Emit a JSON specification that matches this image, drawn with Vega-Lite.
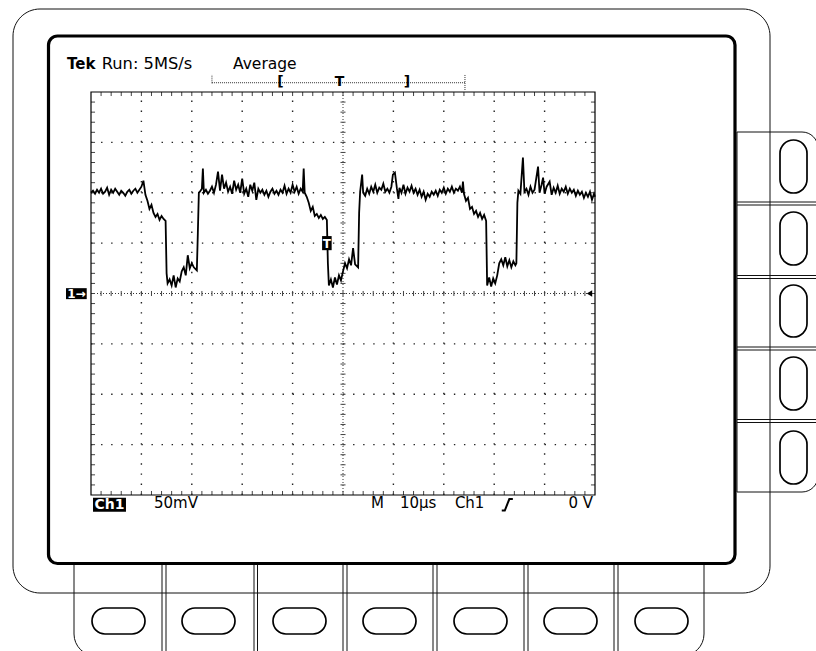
{
"$schema": "https://vega.github.io/schema/vega-lite/v6.json",
"width": 504, "height": 403,
"autosize": {"type": "none"},
"padding": {"left": 91, "top": 92, "right": 221, "bottom": 156},
"background": "white",
"config": {"view": {"stroke": null}, "text": {"font": "DejaVu Sans"}},
"datasets": {
"tt": [{"t":2},{"t":4},{"t":6},{"t":8},{"t":10},{"t":12},{"t":14},{"t":16},{"t":18},{"t":20},{"t":22},{"t":24},{"t":26},{"t":28},{"t":30},{"t":32},{"t":34},{"t":36},{"t":38},{"t":40},{"t":42},{"t":44},{"t":46},{"t":48},{"t":50},{"t":52},{"t":54},{"t":56},{"t":58},{"t":60},{"t":62},{"t":64},{"t":66},{"t":68},{"t":70},{"t":72},{"t":74},{"t":76},{"t":78},{"t":80},{"t":82},{"t":84},{"t":86},{"t":88},{"t":90},{"t":92},{"t":94},{"t":96},{"t":98}],
"mm": [{"mv":-190},{"mv":-180},{"mv":-170},{"mv":-160},{"mv":-150},{"mv":-140},{"mv":-130},{"mv":-120},{"mv":-110},{"mv":-100},{"mv":-90},{"mv":-80},{"mv":-70},{"mv":-60},{"mv":-50},{"mv":-40},{"mv":-30},{"mv":-20},{"mv":-10},{"mv":0},{"mv":10},{"mv":20},{"mv":30},{"mv":40},{"mv":50},{"mv":60},{"mv":70},{"mv":80},{"mv":90},{"mv":100},{"mv":110},{"mv":120},{"mv":130},{"mv":140},{"mv":150},{"mv":160},{"mv":170},{"mv":180},{"mv":190}],
"trace": [{"t":0,"mv":100},{"t":0.4,"mv":102},{"t":0.8,"mv":99},{"t":1.2,"mv":103},{"t":1.6,"mv":100},{"t":2,"mv":104},{"t":2.4,"mv":99},{"t":2.8,"mv":101},{"t":3.2,"mv":105},{"t":3.6,"mv":98},{"t":4,"mv":103},{"t":4.4,"mv":100},{"t":4.8,"mv":104},{"t":5.2,"mv":101},{"t":5.6,"mv":98},{"t":6,"mv":102},{"t":6.4,"mv":100},{"t":6.8,"mv":97},{"t":7.2,"mv":101},{"t":7.6,"mv":103},{"t":8,"mv":99},{"t":8.4,"mv":102},{"t":8.8,"mv":104},{"t":9.2,"mv":100},{"t":9.6,"mv":103},{"t":10,"mv":106},{"t":10.4,"mv":112},{"t":10.8,"mv":98},{"t":11.2,"mv":92},{"t":11.6,"mv":84},{"t":12,"mv":88},{"t":12.4,"mv":80},{"t":12.8,"mv":76},{"t":13.2,"mv":79},{"t":13.6,"mv":73},{"t":14,"mv":77},{"t":14.4,"mv":74},{"t":14.8,"mv":72},{"t":15,"mv":20},{"t":15.2,"mv":10},{"t":15.6,"mv":14},{"t":16,"mv":8},{"t":16.4,"mv":18},{"t":16.8,"mv":6},{"t":17.2,"mv":15},{"t":17.6,"mv":12},{"t":18,"mv":22},{"t":18.4,"mv":26},{"t":18.8,"mv":18},{"t":19.2,"mv":38},{"t":19.6,"mv":25},{"t":20,"mv":30},{"t":20.4,"mv":26},{"t":20.8,"mv":24},{"t":21,"mv":23},{"t":21.2,"mv":60},{"t":21.4,"mv":100},{"t":21.6,"mv":101},{"t":22,"mv":104},{"t":22.2,"mv":124},{"t":22.4,"mv":100},{"t":22.8,"mv":103},{"t":23.2,"mv":99},{"t":23.6,"mv":102},{"t":24,"mv":106},{"t":24.4,"mv":100},{"t":24.8,"mv":108},{"t":25.2,"mv":121},{"t":25.6,"mv":102},{"t":26,"mv":118},{"t":26.4,"mv":104},{"t":26.8,"mv":110},{"t":27.2,"mv":101},{"t":27.6,"mv":106},{"t":28,"mv":99},{"t":28.4,"mv":112},{"t":28.8,"mv":103},{"t":29.2,"mv":108},{"t":29.6,"mv":100},{"t":30,"mv":114},{"t":30.4,"mv":99},{"t":30.8,"mv":104},{"t":31.2,"mv":96},{"t":31.6,"mv":108},{"t":32,"mv":102},{"t":32.4,"mv":110},{"t":32.8,"mv":93},{"t":33.2,"mv":104},{"t":33.6,"mv":100},{"t":34,"mv":103},{"t":34.4,"mv":98},{"t":34.8,"mv":102},{"t":35.2,"mv":96},{"t":35.6,"mv":101},{"t":36,"mv":104},{"t":36.4,"mv":99},{"t":36.8,"mv":102},{"t":37.2,"mv":98},{"t":37.6,"mv":103},{"t":38,"mv":100},{"t":38.4,"mv":107},{"t":38.8,"mv":99},{"t":39.2,"mv":104},{"t":39.6,"mv":100},{"t":40,"mv":108},{"t":40.4,"mv":101},{"t":40.8,"mv":106},{"t":41.2,"mv":99},{"t":41.6,"mv":104},{"t":42,"mv":101},{"t":42.2,"mv":124},{"t":42.4,"mv":100},{"t":42.8,"mv":96},{"t":43.2,"mv":90},{"t":43.6,"mv":82},{"t":44,"mv":86},{"t":44.4,"mv":77},{"t":44.8,"mv":79},{"t":45.2,"mv":75},{"t":45.6,"mv":78},{"t":46,"mv":74},{"t":46.4,"mv":76},{"t":46.8,"mv":73},{"t":47,"mv":30},{"t":47.2,"mv":8},{"t":47.6,"mv":14},{"t":48,"mv":6},{"t":48.4,"mv":16},{"t":48.8,"mv":9},{"t":49.2,"mv":18},{"t":49.6,"mv":13},{"t":50,"mv":22},{"t":50.4,"mv":30},{"t":50.8,"mv":25},{"t":51.2,"mv":34},{"t":51.6,"mv":28},{"t":52,"mv":45},{"t":52.4,"mv":29},{"t":52.8,"mv":27},{"t":53,"mv":26},{"t":53.2,"mv":80},{"t":53.4,"mv":101},{"t":53.8,"mv":118},{"t":54,"mv":100},{"t":54.4,"mv":97},{"t":54.8,"mv":104},{"t":55.2,"mv":99},{"t":55.6,"mv":106},{"t":56,"mv":101},{"t":56.4,"mv":108},{"t":56.8,"mv":100},{"t":57.2,"mv":105},{"t":57.6,"mv":103},{"t":58,"mv":109},{"t":58.4,"mv":101},{"t":58.8,"mv":104},{"t":59.2,"mv":100},{"t":59.6,"mv":106},{"t":59.9,"mv":118},{"t":60.3,"mv":120},{"t":60.7,"mv":104},{"t":61,"mv":94},{"t":61.2,"mv":105},{"t":61.6,"mv":100},{"t":62,"mv":108},{"t":62.4,"mv":99},{"t":62.8,"mv":105},{"t":63.2,"mv":101},{"t":63.6,"mv":107},{"t":64,"mv":100},{"t":64.4,"mv":104},{"t":64.8,"mv":98},{"t":65.2,"mv":103},{"t":65.6,"mv":96},{"t":66,"mv":101},{"t":66.4,"mv":93},{"t":66.8,"mv":99},{"t":67.2,"mv":96},{"t":67.6,"mv":101},{"t":68,"mv":98},{"t":68.4,"mv":102},{"t":68.8,"mv":97},{"t":69.2,"mv":103},{"t":69.6,"mv":100},{"t":70,"mv":105},{"t":70.4,"mv":99},{"t":70.8,"mv":104},{"t":71.2,"mv":101},{"t":71.6,"mv":106},{"t":72,"mv":100},{"t":72.4,"mv":104},{"t":72.8,"mv":102},{"t":73.2,"mv":106},{"t":73.6,"mv":100},{"t":73.8,"mv":111},{"t":74,"mv":99},{"t":74.4,"mv":92},{"t":74.8,"mv":95},{"t":75.2,"mv":84},{"t":75.6,"mv":86},{"t":76,"mv":79},{"t":76.4,"mv":82},{"t":76.8,"mv":76},{"t":77.2,"mv":80},{"t":77.6,"mv":74},{"t":78,"mv":78},{"t":78.4,"mv":72},{"t":78.6,"mv":8},{"t":79,"mv":16},{"t":79.4,"mv":7},{"t":79.8,"mv":15},{"t":80.2,"mv":10},{"t":80.6,"mv":18},{"t":81,"mv":30},{"t":81.4,"mv":34},{"t":81.8,"mv":28},{"t":82.2,"mv":36},{"t":82.6,"mv":27},{"t":83,"mv":33},{"t":83.4,"mv":26},{"t":83.8,"mv":32},{"t":84.2,"mv":28},{"t":84.4,"mv":30},{"t":84.6,"mv":90},{"t":84.8,"mv":102},{"t":85.2,"mv":99},{"t":85.7,"mv":135},{"t":86,"mv":101},{"t":86.4,"mv":104},{"t":86.8,"mv":98},{"t":87.2,"mv":106},{"t":87.6,"mv":100},{"t":88,"mv":103},{"t":88.7,"mv":126},{"t":89,"mv":100},{"t":89.4,"mv":108},{"t":89.7,"mv":115},{"t":90,"mv":99},{"t":90.4,"mv":106},{"t":91,"mv":111},{"t":91.4,"mv":98},{"t":91.8,"mv":105},{"t":92.2,"mv":100},{"t":92.6,"mv":107},{"t":93,"mv":99},{"t":93.4,"mv":104},{"t":93.8,"mv":101},{"t":94.2,"mv":106},{"t":94.6,"mv":99},{"t":95,"mv":104},{"t":95.4,"mv":100},{"t":95.8,"mv":103},{"t":96.2,"mv":97},{"t":96.6,"mv":102},{"t":97,"mv":98},{"t":97.4,"mv":101},{"t":97.8,"mv":95},{"t":98.2,"mv":100},{"t":98.6,"mv":96},{"t":99,"mv":101},{"t":99.4,"mv":93},{"t":99.8,"mv":99},{"t":100,"mv":96}]
},
"resolve": {"scale": {"x": "independent", "y": "independent"}},
"layer": [
{
"encoding": {
"x": {"field": "x", "type": "quantitative", "scale": {"domain": [91, 595], "nice": false, "zero": false}, "axis": null},
"y": {"field": "y", "type": "quantitative", "scale": {"domain": [92, 495], "nice": false, "zero": false, "reverse": true}, "axis": null},
"x2": {"field": "x2"}, "y2": {"field": "y2"}
},
"layer": [
{"data": {"values": [{"x": 13, "y": 9, "x2": 770, "y2": 593}]},
 "mark": {"type": "rect", "filled": false, "color": "#111", "strokeWidth": 1, "cornerRadius": 27}},
{"data": {"values": [{"x": 737, "y": 132, "x2": 818, "y2": 492}]},
 "mark": {"type": "rect", "filled": false, "color": "#111", "strokeWidth": 1, "cornerRadiusTopRight": 16, "cornerRadiusBottomRight": 16}},
{"data": {"values": [{"x": 74, "y": 563, "x2": 704, "y2": 656}]},
 "mark": {"type": "rect", "filled": false, "color": "#111", "strokeWidth": 1, "cornerRadiusBottomLeft": 22, "cornerRadiusBottomRight": 22}},
{"data": {"values": [{"x": 737, "y": 202, "x2": 816, "y2": 202}, {"x": 737, "y": 205, "x2": 816, "y2": 205}, {"x": 737, "y": 275.5, "x2": 816, "y2": 275.5}, {"x": 737, "y": 278.5, "x2": 816, "y2": 278.5}, {"x": 737, "y": 347, "x2": 816, "y2": 347}, {"x": 737, "y": 350, "x2": 816, "y2": 350}, {"x": 737, "y": 419.5, "x2": 816, "y2": 419.5}, {"x": 737, "y": 422.5, "x2": 816, "y2": 422.5},
 {"x": 162, "y": 563, "x2": 162, "y2": 651}, {"x": 166, "y": 563, "x2": 166, "y2": 651}, {"x": 254, "y": 563, "x2": 254, "y2": 651}, {"x": 257.5, "y": 563, "x2": 257.5, "y2": 651}, {"x": 343, "y": 563, "x2": 343, "y2": 651}, {"x": 347, "y": 563, "x2": 347, "y2": 651}, {"x": 433, "y": 563, "x2": 433, "y2": 651}, {"x": 437, "y": 563, "x2": 437, "y2": 651}, {"x": 524, "y": 563, "x2": 524, "y2": 651}, {"x": 528, "y": 563, "x2": 528, "y2": 651}, {"x": 614, "y": 563, "x2": 614, "y2": 651}, {"x": 618, "y": 563, "x2": 618, "y2": 651}]},
 "mark": {"type": "rule", "color": "#111", "strokeWidth": 1}},
{"data": {"values": [{"x": 48.5, "y": 36, "x2": 735, "y2": 563.5}]},
 "mark": {"type": "rect", "filled": false, "color": "#000", "strokeWidth": 3.2, "cornerRadius": 9}},
{"data": {"values": [{"x": 780, "y": 140, "x2": 807, "y2": 193}, {"x": 780, "y": 212, "x2": 807, "y2": 265}, {"x": 780, "y": 285, "x2": 807, "y2": 337}, {"x": 780, "y": 357, "x2": 807, "y2": 410}, {"x": 780, "y": 431, "x2": 807, "y2": 484}]},
 "mark": {"type": "rect", "filled": false, "color": "#000", "strokeWidth": 1.7, "cornerRadius": 13.5}},
{"data": {"values": [{"x": 92, "y": 608, "x2": 145, "y2": 634}, {"x": 182, "y": 608, "x2": 235, "y2": 634}, {"x": 273, "y": 608, "x2": 326, "y2": 634}, {"x": 363, "y": 608, "x2": 416, "y2": 634}, {"x": 454, "y": 608, "x2": 507, "y2": 634}, {"x": 544, "y": 608, "x2": 597, "y2": 634}, {"x": 635, "y": 608, "x2": 688, "y2": 634}]},
 "mark": {"type": "rect", "filled": false, "color": "#000", "strokeWidth": 1.7, "cornerRadius": 13}}
]
},
{
"layer": [
{"data": {"values": [{"t": 10}, {"t": 20}, {"t": 30}, {"t": 40}, {"t": 60}, {"t": 70}, {"t": 80}, {"t": 90}]},
 "mark": {"type": "rule", "color": "#222", "strokeWidth": 1.4, "strokeDash": [1.4, 8.68]},
 "encoding": {
  "x": {"field": "t", "type": "quantitative", "scale": {"domain": [0, 100], "nice": false, "zero": false}, "axis": null},
  "y": {"datum": -200, "type": "quantitative", "scale": {"domain": [-200, 200], "nice": false, "zero": false}, "axis": null},
  "y2": {"datum": 200}}},
{"data": {"values": [{"mv": -150}, {"mv": -100}, {"mv": -50}, {"mv": 50}, {"mv": 100}, {"mv": 150}]},
 "mark": {"type": "rule", "color": "#222", "strokeWidth": 1.4, "strokeDash": [1.4, 8.68]},
 "encoding": {
  "x": {"datum": 0, "type": "quantitative", "scale": {"domain": [0, 100], "nice": false, "zero": false}, "axis": null},
  "x2": {"datum": 100},
  "y": {"field": "mv", "type": "quantitative", "scale": {"domain": [-200, 200], "nice": false, "zero": false}, "axis": null}}},
{"data": {"values": [{}]},
 "mark": {"type": "rule", "color": "#333", "strokeWidth": 1, "strokeDash": [1, 2]},
 "encoding": {
  "x": {"datum": 50, "type": "quantitative", "scale": {"domain": [0, 100], "nice": false, "zero": false}, "axis": null},
  "y": {"datum": -200, "type": "quantitative", "scale": {"domain": [-200, 200], "nice": false, "zero": false}, "axis": null},
  "y2": {"datum": 200}}},
{"data": {"values": [{}]},
 "mark": {"type": "rule", "color": "#333", "strokeWidth": 1, "strokeDash": [1, 2]},
 "encoding": {
  "x": {"datum": 0, "type": "quantitative", "scale": {"domain": [0, 100], "nice": false, "zero": false}, "axis": null},
  "x2": {"datum": 100},
  "y": {"datum": 0, "type": "quantitative", "scale": {"domain": [-200, 200], "nice": false, "zero": false}, "axis": null}}},
{"data": {"name": "tt"},
 "mark": {"type": "rule", "color": "#444", "strokeWidth": 1},
 "encoding": {
  "x": {"field": "t", "type": "quantitative", "scale": {"domain": [0, 100], "nice": false, "zero": false}, "axis": null},
  "y": {"datum": -2.5, "type": "quantitative", "scale": {"domain": [-200, 200], "nice": false, "zero": false}, "axis": null},
  "y2": {"datum": 2.5}}},
{"data": {"name": "tt"},
 "mark": {"type": "rule", "color": "#444", "strokeWidth": 1},
 "encoding": {
  "x": {"field": "t", "type": "quantitative", "scale": {"domain": [0, 100], "nice": false, "zero": false}, "axis": null},
  "y": {"datum": 200, "type": "quantitative", "scale": {"domain": [-200, 200], "nice": false, "zero": false}, "axis": null},
  "y2": {"datum": 196}}},
{"data": {"name": "tt"},
 "mark": {"type": "rule", "color": "#444", "strokeWidth": 1},
 "encoding": {
  "x": {"field": "t", "type": "quantitative", "scale": {"domain": [0, 100], "nice": false, "zero": false}, "axis": null},
  "y": {"datum": -200, "type": "quantitative", "scale": {"domain": [-200, 200], "nice": false, "zero": false}, "axis": null},
  "y2": {"datum": -196}}},
{"data": {"name": "mm"},
 "mark": {"type": "rule", "color": "#444", "strokeWidth": 1},
 "encoding": {
  "x": {"datum": 49.5, "type": "quantitative", "scale": {"domain": [0, 100], "nice": false, "zero": false}, "axis": null},
  "x2": {"datum": 50.5},
  "y": {"field": "mv", "type": "quantitative", "scale": {"domain": [-200, 200], "nice": false, "zero": false}, "axis": null}}},
{"data": {"name": "mm"},
 "mark": {"type": "rule", "color": "#444", "strokeWidth": 1},
 "encoding": {
  "x": {"datum": 0, "type": "quantitative", "scale": {"domain": [0, 100], "nice": false, "zero": false}, "axis": null},
  "x2": {"datum": 0.8},
  "y": {"field": "mv", "type": "quantitative", "scale": {"domain": [-200, 200], "nice": false, "zero": false}, "axis": null}}},
{"data": {"name": "mm"},
 "mark": {"type": "rule", "color": "#444", "strokeWidth": 1},
 "encoding": {
  "x": {"datum": 100, "type": "quantitative", "scale": {"domain": [0, 100], "nice": false, "zero": false}, "axis": null},
  "x2": {"datum": 99.2},
  "y": {"field": "mv", "type": "quantitative", "scale": {"domain": [-200, 200], "nice": false, "zero": false}, "axis": null}}},
{"data": {"values": [{}]},
 "mark": {"type": "rect", "filled": false, "color": "#000", "strokeWidth": 1.2},
 "encoding": {
  "x": {"datum": 0, "type": "quantitative", "scale": {"domain": [0, 100], "nice": false, "zero": false}, "axis": null},
  "x2": {"datum": 100},
  "y": {"datum": -200, "type": "quantitative", "scale": {"domain": [-200, 200], "nice": false, "zero": false}, "axis": null},
  "y2": {"datum": 200}}},
{"data": {"name": "trace"},
 "mark": {"type": "line", "color": "#000", "strokeWidth": 1.8},
 "encoding": {
  "x": {"field": "t", "type": "quantitative", "scale": {"domain": [0, 100], "nice": false, "zero": false}, "axis": null},
  "y": {"field": "mv", "type": "quantitative", "scale": {"domain": [-200, 200], "nice": false, "zero": false}, "axis": null}}},
{"data": {"values": [{"t": 45.85, "t2": 47.75, "mv": 43, "mv2": 57}, {"t": -4.96, "t2": -0.85, "mv": -5.6, "mv2": 5.3}, {"t": 0.4, "t2": 6.94, "mv": -216.7, "mv2": -202.8}]},
 "mark": {"type": "rect", "color": "#000"},
 "encoding": {
  "x": {"field": "t", "type": "quantitative", "scale": {"domain": [0, 100], "nice": false, "zero": false}, "axis": null},
  "x2": {"field": "t2"},
  "y": {"field": "mv", "type": "quantitative", "scale": {"domain": [-200, 200], "nice": false, "zero": false}, "axis": null},
  "y2": {"field": "mv2"}}},
{"data": {"values": [{"label": "T", "tc": 46.8, "mc": 50, "fs": 12}, {"label": "1→", "tc": -2.9, "mc": -0.2, "fs": 12}, {"label": "Ch1", "tc": 3.67, "mc": -209.8, "fs": 14}]},
 "mark": {"type": "text", "color": "white", "fontWeight": "bold", "baseline": "middle", "align": "center", "dy": 0.5},
 "encoding": {
  "x": {"field": "tc", "type": "quantitative", "scale": {"domain": [0, 100], "nice": false, "zero": false}, "axis": null},
  "y": {"field": "mc", "type": "quantitative", "scale": {"domain": [-200, 200], "nice": false, "zero": false}, "axis": null},
  "size": {"field": "fs", "type": "quantitative", "scale": null},
  "text": {"field": "label"}}},
{"data": {"values": [{"t": 98.9, "mv": 0}]},
 "mark": {"type": "point", "shape": "triangle-left", "filled": true, "color": "#000", "size": 40, "opacity": 1},
 "encoding": {
  "x": {"field": "t", "type": "quantitative", "scale": {"domain": [0, 100], "nice": false, "zero": false}, "axis": null},
  "y": {"field": "mv", "type": "quantitative", "scale": {"domain": [-200, 200], "nice": false, "zero": false}, "axis": null}}},
{"data": {"values": [{"t": 24.0, "t2": 74.2, "mv": 209.2, "mv2": 209.2}, {"t": 24.0, "t2": 24.0, "mv": 208.6, "mv2": 216.9}, {"t": 74.2, "t2": 74.2, "mv": 202, "mv2": 216.9}]},
 "mark": {"type": "rule", "color": "#333", "strokeWidth": 1, "strokeDash": [1, 1]},
 "encoding": {
  "x": {"field": "t", "type": "quantitative", "scale": {"domain": [0, 100], "nice": false, "zero": false}, "axis": null},
  "x2": {"field": "t2"},
  "y": {"field": "mv", "type": "quantitative", "scale": {"domain": [-200, 200], "nice": false, "zero": false}, "axis": null},
  "y2": {"field": "mv2"}}},
{"data": {"values": [{"label": "[", "t": 37.6}, {"label": "T", "t": 49.3}, {"label": "]", "t": 62.7}]},
 "mark": {"type": "text", "color": "#000", "fontWeight": "bold", "fontSize": 14, "baseline": "middle", "align": "center"},
 "encoding": {
  "x": {"field": "t", "type": "quantitative", "scale": {"domain": [0, 100], "nice": false, "zero": false}, "axis": null},
  "y": {"datum": 209.6, "type": "quantitative", "scale": {"domain": [-200, 200], "nice": false, "zero": false}, "axis": null},
  "text": {"field": "label"}}},
{"data": {"values": [{"label": "Tek", "t": -4.76}]},
 "mark": {"type": "text", "color": "#000", "fontWeight": "bold", "fontSize": 15, "baseline": "alphabetic", "align": "left"},
 "encoding": {
  "x": {"field": "t", "type": "quantitative", "scale": {"domain": [0, 100], "nice": false, "zero": false}, "axis": null},
  "y": {"datum": 222.8, "type": "quantitative", "scale": {"domain": [-200, 200], "nice": false, "zero": false}, "axis": null},
  "text": {"field": "label"}}},
{"data": {"values": [{"label": "Run: 5MS/s", "t": 2.12}]},
 "mark": {"type": "text", "color": "#000", "fontSize": 16.3, "baseline": "alphabetic", "align": "left"},
 "encoding": {
  "x": {"field": "t", "type": "quantitative", "scale": {"domain": [0, 100], "nice": false, "zero": false}, "axis": null},
  "y": {"datum": 222.8, "type": "quantitative", "scale": {"domain": [-200, 200], "nice": false, "zero": false}, "axis": null},
  "text": {"field": "label"}}},
{"data": {"values": [{"label": "Average", "t": 28.17}]},
 "mark": {"type": "text", "color": "#000", "fontSize": 15.5, "baseline": "alphabetic", "align": "left"},
 "encoding": {
  "x": {"field": "t", "type": "quantitative", "scale": {"domain": [0, 100], "nice": false, "zero": false}, "axis": null},
  "y": {"datum": 222.8, "type": "quantitative", "scale": {"domain": [-200, 200], "nice": false, "zero": false}, "axis": null},
  "text": {"field": "label"}}},
{"data": {"values": [{"label": "50mV", "t": 12.5}, {"label": "M", "t": 55.56}, {"label": "10µs", "t": 61.3}, {"label": "Ch1", "t": 72.2}]},
 "mark": {"type": "text", "color": "#000", "fontSize": 15, "baseline": "alphabetic", "align": "left"},
 "encoding": {
  "x": {"field": "t", "type": "quantitative", "scale": {"domain": [0, 100], "nice": false, "zero": false}, "axis": null},
  "y": {"datum": -212.7, "type": "quantitative", "scale": {"domain": [-200, 200], "nice": false, "zero": false}, "axis": null},
  "text": {"field": "label"}}},
{"data": {"values": [{"label": "0 V", "t": 99.6}]},
 "mark": {"type": "text", "color": "#000", "fontSize": 15, "baseline": "alphabetic", "align": "right"},
 "encoding": {
  "x": {"field": "t", "type": "quantitative", "scale": {"domain": [0, 100], "nice": false, "zero": false}, "axis": null},
  "y": {"datum": -212.7, "type": "quantitative", "scale": {"domain": [-200, 200], "nice": false, "zero": false}, "axis": null},
  "text": {"field": "label"}}},
{"data": {"values": [{"t": 81.5, "mv": -215.5}, {"t": 82.1, "mv": -215.5}, {"t": 83.0, "mv": -204}, {"t": 83.7, "mv": -204}]},
 "mark": {"type": "line", "color": "#000", "strokeWidth": 2},
 "encoding": {
  "x": {"field": "t", "type": "quantitative", "scale": {"domain": [0, 100], "nice": false, "zero": false}, "axis": null},
  "y": {"field": "mv", "type": "quantitative", "scale": {"domain": [-200, 200], "nice": false, "zero": false}, "axis": null}}}
]
}
]
}
